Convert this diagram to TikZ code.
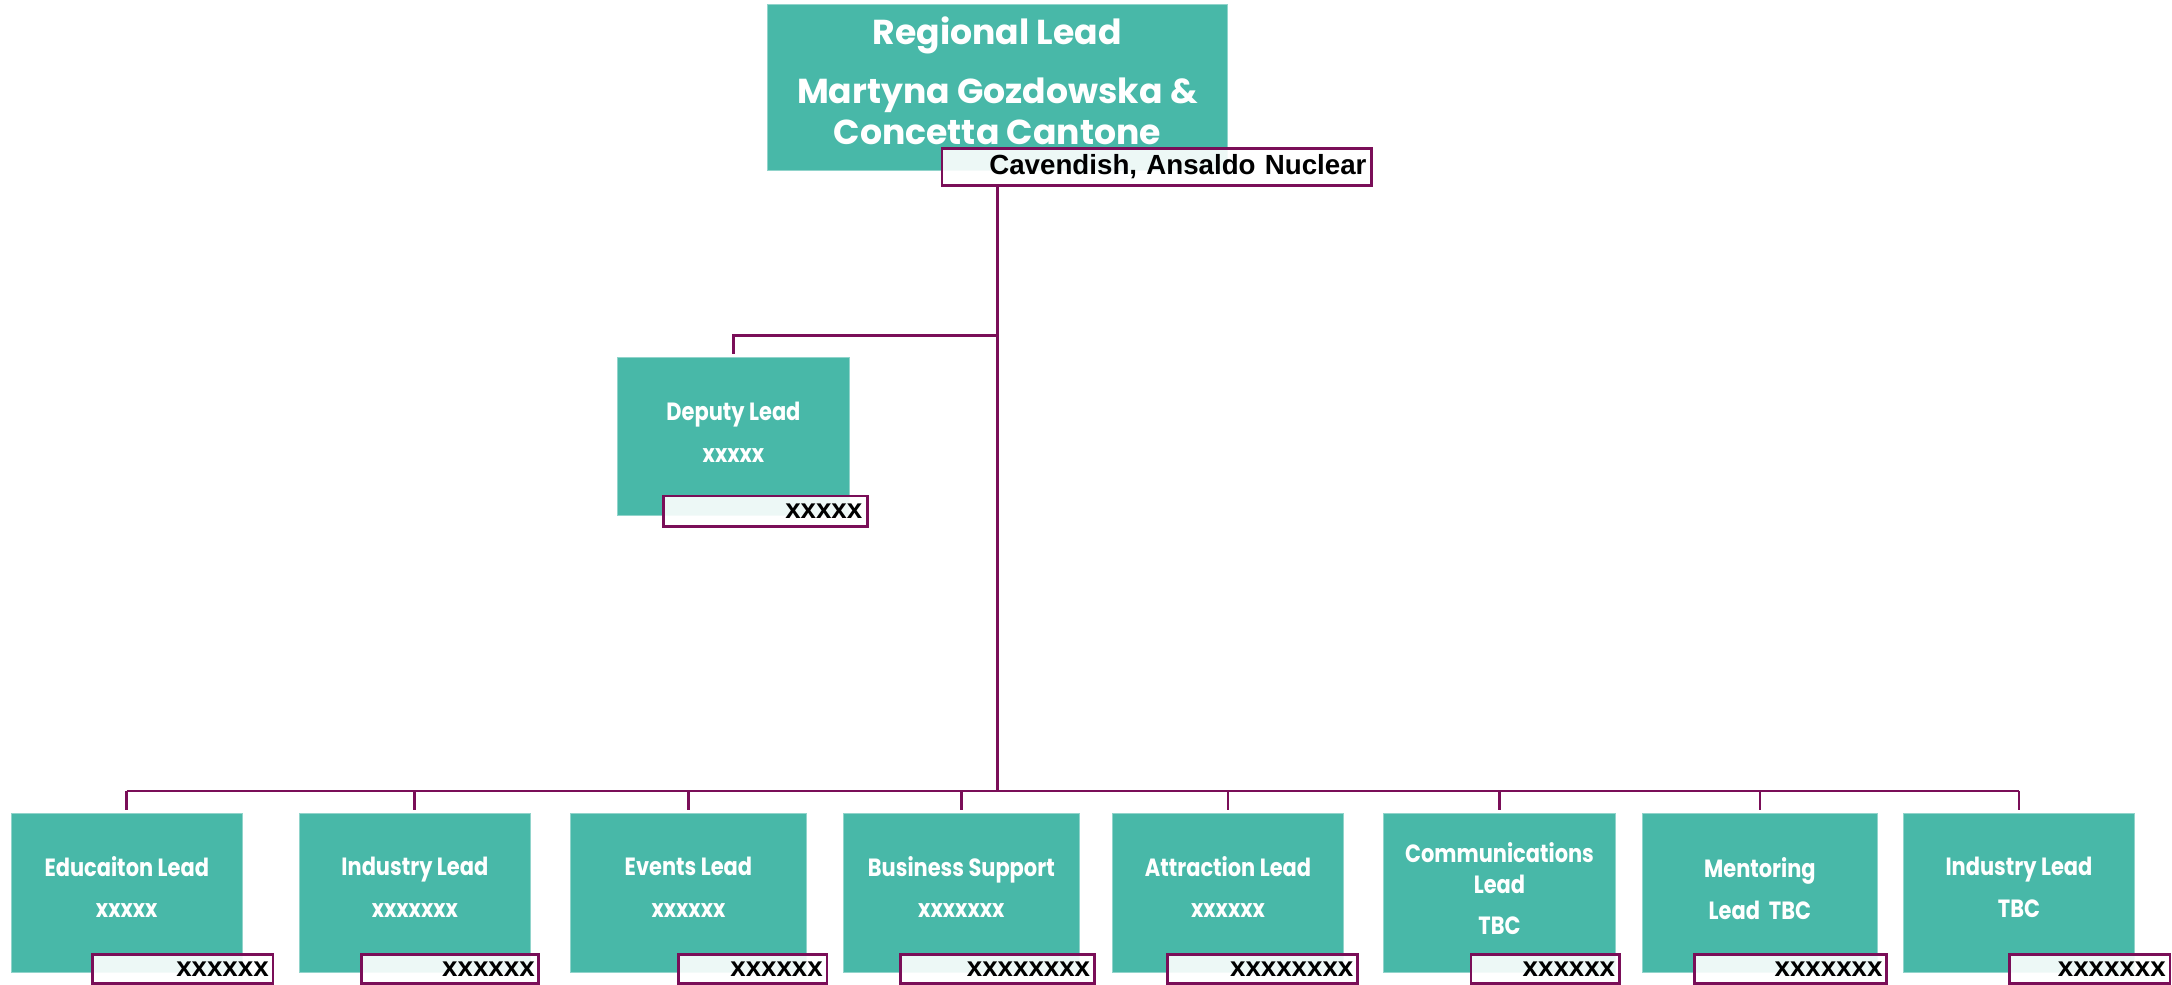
\documentclass[tikz,border=0pt]{standalone}
\usepackage{fontspec}
\newfontfamily\boxfont[FakeStretch=0.84]{Poppins}
\newfontfamily\topfont{Poppins}
\newfontfamily\lblfont{Liberation Sans}
\definecolor{tealbox}{RGB}{72,184,168}
\definecolor{plum}{RGB}{122,14,88}
\newcommand{\lift}[1]{\\[#1]\mbox{}}
\begin{document}
\begin{tikzpicture}[x=1pt,y=-1pt,
  box/.style={fill=tealbox, draw=tealbox!60!white, line width=0.6pt, text=white, align=center, inner sep=0pt,
    font=\boxfont\bfseries\fontsize{18}{30}\selectfont},
  topbox/.style={box, font=\topfont\bfseries\fontsize{25}{29}\selectfont},
  lbl/.style={draw=plum, line width=2pt, fill=white, fill opacity=0.9, text opacity=1, inner sep=0pt,
    align=right, text=black, font=\lblfont\bfseries\fontsize{20}{22}\selectfont},
  conn/.style={draw=plum, line width=2pt}]
\useasboundingbox (0,0) rectangle (1568,711);

% top
\node[topbox, minimum width=332pt, minimum height=120pt] (top) at (720,63)
  {Regional Lead\\[14pt]Martyna Gozdowska \&\\Concetta Cantone\lift{-19pt}};
\node[lbl, minimum width=310pt, minimum height=27pt, text width=303pt] (toplbl) at (835,120.5)
  {Cavendish, Ansaldo Nuclear};

% deputy
\node[box, minimum width=167pt, minimum height=114pt] (dep) at (529.5,315) {Deputy Lead\\xxxxx\lift{-24pt}};
\node[lbl, minimum width=147pt, minimum height=22pt, text width=140pt] (deplbl) at (552.5,369) {xxxxx};

% bottom row
\node[box, minimum width=167pt, minimum height=115pt] (b1) at (91.5,644.5) {Educaiton Lead\\xxxxx\lift{-22pt}};
\node[box, minimum width=167pt, minimum height=115pt] (b2) at (299.5,644.5) {Industry Lead\\xxxxxxx\lift{-22pt}};
\node[box, minimum width=170pt, minimum height=115pt] (b3) at (497,644.5) {Events Lead\\xxxxxx\lift{-22pt}};
\node[box, minimum width=170pt, minimum height=115pt] (b4) at (694,644.5) {Business Support\\xxxxxxx\lift{-22pt}};
\node[box, minimum width=167pt, minimum height=115pt] (b5) at (886.5,644.5) {Attraction Lead\\xxxxxx\lift{-22pt}};
\node[box, minimum width=167pt, minimum height=115pt] (b6) at (1082.5,644.5) {Communications\\[-8pt]Lead\\TBC\lift{-24pt}};
\node[box, minimum width=169pt, minimum height=115pt] (b7) at (1270.5,644.5) {Mentoring\\Lead~~TBC\lift{-24pt}};
\node[box, minimum width=167pt, minimum height=115pt] (b8) at (1457.5,644.5) {Industry Lead\\TBC\lift{-22pt}};

\node[lbl, minimum width=130pt, minimum height=21pt, text width=124pt] (l1) at (132,699.5) {xxxxxx};
\node[lbl, minimum width=128pt, minimum height=21pt, text width=122pt] (l2) at (325,699.5) {xxxxxx};
\node[lbl, minimum width=107pt, minimum height=21pt, text width=101pt] (l3) at (543.5,699.5) {xxxxxx};
\node[lbl, minimum width=140pt, minimum height=21pt, text width=134pt] (l4) at (720,699.5) {xxxxxxxx};
\node[lbl, minimum width=137pt, minimum height=21pt, text width=131pt] (l5) at (911.5,699.5) {xxxxxxxx};
\node[lbl, minimum width=107pt, minimum height=21pt, text width=101pt] (l6) at (1115.5,699.5) {xxxxxx};
\node[lbl, minimum width=139pt, minimum height=21pt, text width=133pt] (l7) at (1292.5,699.5) {xxxxxxx};
\node[lbl, minimum width=116pt, minimum height=21pt, text width=110pt] (l8) at (1508.5,699.5) {xxxxxxx};

% connectors
\coordinate (dj) at (720,242);
\coordinate (bus) at (720,571);
\draw[conn] (toplbl.south -| top.south) -- (bus);
\draw[conn] (dj) -| ([yshift=2pt]dep.north);
\draw[conn] (b1.north |- bus) -- (b8.north |- bus);
\foreach \i in {1,...,8}{
  \draw[conn] (b\i.north |- bus) -- ([yshift=2pt]b\i.north);
}
\end{tikzpicture}
\end{document}
